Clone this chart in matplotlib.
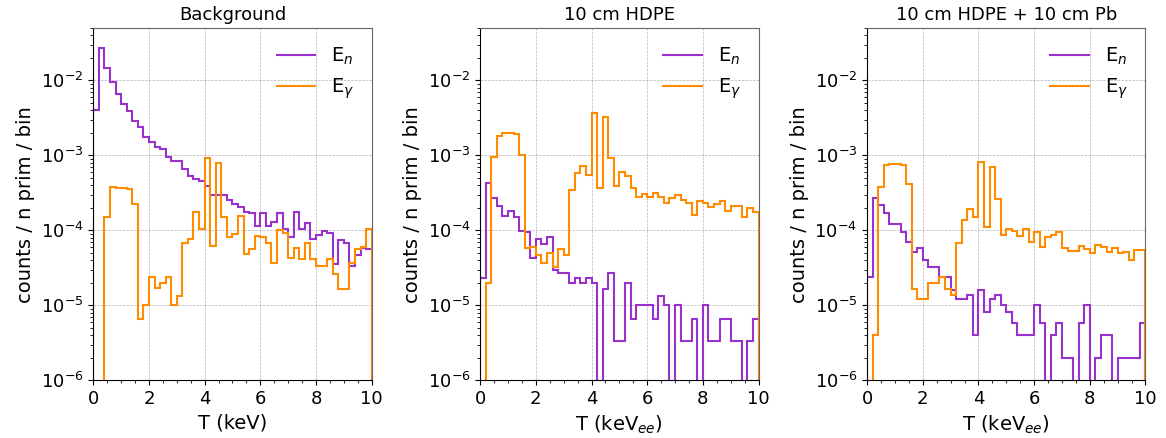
import numpy as np
import matplotlib
matplotlib.use('Agg')
import matplotlib.pyplot as plt
from matplotlib.ticker import MultipleLocator
from matplotlib.lines import Line2D

# bin edges, 0.2 keV wide
edges = np.linspace(0, 10, 51)
centers = 0.5 * (edges[1:] + edges[:-1])

titles = ['Background', '10 cm HDPE', '10 cm HDPE + 10 cm Pb']
xlabels = ['T (keV)', 'T (keV$_{ee}$)', 'T (keV$_{ee}$)']

# background
bg_n = [4.0e-3, 2.67e-2, 1.45e-2, 9.4e-3, 6.6e-3, 4.9e-3, 3.9e-3, 2.9e-3, 2.36e-3, 1.74e-3,
        1.52e-3, 1.28e-3, 1.23e-3, 9.6e-4, 8.3e-4, 8.3e-4, 6.6e-4, 5.3e-4, 4.8e-4, 4.5e-4,
        3.94e-4, 2.93e-4, 2.99e-4, 2.99e-4, 2.54e-4, 2.24e-4, 2.03e-4, 1.77e-4, 1.69e-4, 1.14e-4,
        1.69e-4, 1.14e-4, 1.28e-4, 1.73e-4, 1.03e-4, 8.1e-5, 1.77e-4, 1.03e-4, 1.27e-4, 7.7e-5,
        8.6e-5, 9.7e-5, 9.1e-5, 3.6e-5, 7.4e-5, 6.7e-5, 3.3e-5, 4.7e-5, 5.9e-5, 5.7e-5]
bg_g = [0, 0, 1.52e-4, 3.82e-4, 3.71e-4, 3.71e-4, 3.55e-4, 2.22e-4, 6.6e-6, 1.01e-5,
        2.36e-5, 1.69e-5, 2.0e-5, 2.36e-5, 1.0e-5, 1.33e-5, 6.7e-5, 7.7e-5, 1.75e-4, 1.04e-4,
        9.1e-4, 6.25e-5, 7.8e-4, 1.52e-4, 8.2e-5, 8.9e-5, 1.55e-4, 4.9e-5, 5.7e-5, 8.5e-5,
        8.1e-5, 6.7e-5, 3.63e-5, 1.01e-4, 9.1e-5, 4.3e-5, 5.8e-5, 4.2e-5, 6.7e-5, 4.1e-5,
        3.34e-5, 3.34e-5, 4.1e-5, 2.62e-5, 1.67e-5, 1.67e-5, 3.7e-5, 5.7e-5, 6.05e-5, 1.04e-4]

# 10 cm hdpe
hd_n = [2.34e-5, 4.24e-4, 2.73e-4, 2.11e-4, 1.55e-4, 1.81e-4, 1.52e-4, 9.9e-5, 9.5e-5, 4.3e-5,
        7.7e-5, 6.5e-5, 8.1e-5, 3.0e-5, 2.67e-5, 2.67e-5, 2.0e-5, 2.34e-5, 2.0e-5, 2.34e-5,
        2.0e-5, 0, 1.67e-5, 2.67e-5, 3.3e-6, 3.3e-6, 2.0e-5, 6.6e-6, 1.0e-5, 1.0e-5,
        1.0e-5, 6.6e-6, 1.33e-5, 1.0e-5, 0, 1.0e-5, 3.3e-6, 3.3e-6, 6.6e-6, 0,
        1.0e-5, 3.3e-6, 3.3e-6, 6.6e-6, 6.6e-6, 3.3e-6, 3.3e-6, 0, 3.3e-6, 6.6e-6]
hd_g = [0, 1.96e-5, 9.6e-4, 1.81e-3, 2.0e-3, 2.0e-3, 1.92e-3, 1.01e-3, 5.9e-5, 6.05e-5,
        4.64e-5, 3.63e-5, 5.04e-5, 3.28e-5, 5.58e-5, 4.64e-5, 3.45e-4, 5.75e-4, 7.2e-4, 5.47e-4,
        3.71e-3, 3.63e-4, 3.28e-3, 9.1e-4, 3.94e-4, 6.05e-4, 5.3e-4, 3.63e-4, 2.81e-4, 3.05e-4,
        2.75e-4, 3.18e-4, 2.75e-4, 2.34e-4, 2.73e-4, 2.99e-4, 2.54e-4, 2.29e-4, 1.58e-4, 2.44e-4,
        2.34e-4, 2.07e-4, 2.22e-4, 2.46e-4, 1.83e-4, 2.13e-4, 2.11e-4, 1.49e-4, 1.96e-4, 1.77e-4]

# 10 cm hdpe + 10 cm pb
pb_n = [2.36e-5, 2.67e-4, 2.18e-4, 1.69e-4, 1.21e-4, 1.21e-4, 9.4e-5, 6.9e-5, 5.2e-5, 5.8e-5,
        4.0e-5, 3.2e-5, 3.2e-5, 2.37e-5, 2.37e-5, 1.6e-5, 1.2e-5, 1.2e-5, 1.37e-5, 4.0e-6,
        1.6e-5, 8.1e-6, 1.2e-5, 1.37e-5, 1.0e-5, 8.1e-6, 5.9e-6, 4.0e-6, 4.0e-6, 4.0e-6,
        1.0e-5, 5.9e-6, 0, 4.0e-6, 5.9e-6, 2.0e-6, 2.0e-6, 0, 5.9e-6, 1.0e-5,
        0, 2.0e-6, 4.0e-6, 4.0e-6, 0, 2.0e-6, 2.0e-6, 2.0e-6, 2.0e-6, 5.9e-6]
pb_g = [0, 4.0e-6, 3.82e-4, 7.43e-4, 7.7e-4, 7.6e-4, 7.43e-4, 4.15e-4, 1.63e-5, 1.2e-5,
        1.2e-5, 1.99e-5, 1.99e-5, 2.4e-5, 1.67e-5, 1.37e-5, 6.85e-5, 1.37e-4, 1.92e-4, 1.49e-4,
        8.24e-4, 1.1e-4, 6.9e-4, 2.64e-4, 8.7e-5, 1.05e-4, 9.9e-5, 8.4e-5, 1.05e-4, 7.06e-5,
        9.6e-5, 6.05e-5, 8.1e-5, 8.75e-5, 9.5e-5, 5.75e-5, 5.36e-5, 5.3e-5, 6.2e-5, 5.6e-5,
        5.04e-5, 6.4e-5, 6.05e-5, 5.1e-5, 5.8e-5, 5.04e-5, 5.2e-5, 4.0e-5, 5.45e-5, 5.45e-5]

neutrons = [bg_n, hd_n, pb_n]
gammas = [bg_g, hd_g, pb_g]

c_n = 'darkorchid'
c_g = 'darkorange'

fig, axes = plt.subplots(1, 3, figsize=(11.66, 4.38), dpi=100)
fig.subplots_adjust(left=0.080, right=0.9824, bottom=0.1317, top=0.936, wspace=0.39)

for i, ax in enumerate(axes):
    ax.hist(centers, bins=edges, weights=neutrons[i], histtype='step', color=c_n, lw=1.5)
    ax.hist(centers, bins=edges, weights=gammas[i], histtype='step', color=c_g, lw=1.5)
    ax.set_yscale('log')
    ax.set_xlim(0, 10)
    ax.set_ylim(1e-6, 5e-2)
    ax.xaxis.set_minor_locator(MultipleLocator(0.5))
    ax.tick_params(labelsize=13)
    ax.grid(True, which='major', ls='--', lw=0.5, color='gray', alpha=0.6)
    for s in ['top', 'right']:
        ax.spines[s].set_color('0.4')
    ax.set_title(titles[i], fontsize=13)
    ax.set_xlabel(xlabels[i], fontsize=14)
    ax.set_ylabel('counts / n prim / bin', fontsize=14)
    # line handles for the legend instead of hist patches
    handles = [Line2D([], [], color=c_n, lw=1.5), Line2D([], [], color=c_g, lw=1.5)]
    ax.legend(handles, ['E$_n$', 'E$_\\gamma$'], loc='upper right', frameon=False, fontsize=14)

fig.savefig('out.png', dpi=100)
